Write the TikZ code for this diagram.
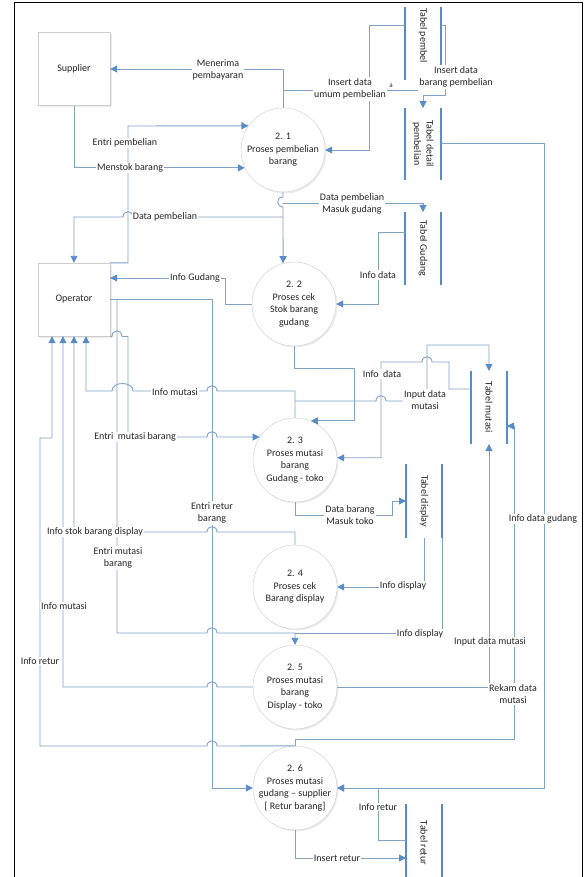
\documentclass[tikz,border=0pt]{standalone}
\usepackage{fontspec}
\setmainfont{Carlito}
\usetikzlibrary{arrows.meta,shadows}

\definecolor{flowblue}{RGB}{128,162,198}
\definecolor{tipblue}{RGB}{88,140,200}
\definecolor{rimgray}{RGB}{205,205,205}

\tikzset{
  ent/.style={rectangle, draw=rimgray, fill=white, minimum width=72, minimum height=73,
    drop shadow={shadow xshift=1.5pt, shadow yshift=-1.5pt, opacity=0.15}},
  proc/.style={circle, draw=rimgray, fill=white, minimum size=84, inner sep=0pt,
    drop shadow={shadow xshift=1.5pt, shadow yshift=-1.5pt, opacity=0.15}},
  ptxt/.style={align=center},
  store/.style={rectangle, minimum width=36, minimum height=73, inner sep=0pt, outer sep=0pt},
  stxt/.style={rotate=-90, align=center},
  storeline/.style={draw=tipblue, line width=2.2pt},
  flow/.style={draw=flowblue, line width=0.9pt},
  arr/.style={flow, -{Triangle[length=7pt, width=7pt, color=tipblue]}},
  lbl/.style={fill=white, inner sep=1pt, align=center},
}

\begin{document}
\begin{tikzpicture}[x=1pt, y=-1pt,
  every node/.style={font=\fontsize{10}{12.5}\selectfont, text=black!85}]
  \useasboundingbox (0,0) rectangle (584,877);

  % Frame
  \draw[line width=1pt] (14,877) -- (14,3) -- (582,3) -- (582,877);

  % Entities
  \node[ent] (sup) at (74,69) {Supplier};
  \node[ent] (op) at (74,299.5) {Operator};

  % Processes
  \node[proc, label={[ptxt]center:{2. 1\\Proses pembelian\\barang}}] (p21) at (283,150) {};
  \node[proc, label={[ptxt]center:{2. 2\\Proses cek\\Stok barang\\gudang}}] (p22) at (294,304) {};
  \node[proc, label={[ptxt]center:{2. 3\\Proses mutasi\\barang\\Gudang - toko}}] (p23) at (295,460) {};
  \node[proc, label={[ptxt]center:{2. 4\\Proses cek\\Barang display}}] (p24) at (295,587) {};
  \node[proc, label={[ptxt]center:{2. 5\\Proses mutasi\\barang\\Display - toko}}] (p25) at (295,687) {};
  \node[proc, label={[ptxt]center:{2. 6\\Proses mutasi\\gudang -- supplier\\{[} Retur barang]}}] (p26) at (295,788) {};

  % Data stores
  \node[store, label={[yshift=8pt, stxt]center:Tabel pembel}] (tpembel) at (423,43.5) {};
  \node[store, minimum height=72, label={[stxt]center:{Tabel detail\\pembelian}}] (tdetail) at (423,144) {};
  \node[store, label={[stxt]center:Tabel Gudang}] (tgudang) at (423,248.5) {};
  \node[store, label={[stxt]center:Tabel mutasi}] (tmutasi) at (489,407.5) {};
  \node[store, minimum height=74, label={[stxt]center:Tabel display}] (tdisplay) at (424,501) {};
  \node[store, minimum height=78, label={[stxt]center:Tabel retur}] (tretur) at (424,843) {};
  \foreach \s in {tpembel,tdetail,tgudang,tmutasi,tdisplay,tretur}
    \draw[storeline] (\s.north west) -- (\s.south west) (\s.north east) -- (\s.south east);

  \coordinate (umum) at (418,90);

  % 2.1 flows
  \draw[arr] (p21.north) |- (sup.east);
  \draw[flow] (p21.north |- 0,90) -- (umum);
  \draw[arr] (tpembel.west |- 0,25) -| (369,150) -- (p21.east);
  \draw[arr] (tpembel.east |- 0,25) -| (445,95) -| (tdetail.north);
  \draw[arr] (op.north east) -| (128,126) -- (p21.145);
  \draw[arr] (sup.south) |- (p21.205);
  \draw[arr] (p21.south) -- (283,197) .. controls (276,197) and (276,207) .. (283,207) -- (p22.105);
  \draw[arr] (p21.south |- 0,217) -- (133,217) .. controls (133,210) and (123,210) .. (123,217) -| (op.north);
  \draw[arr] (p21.south |- 0,203) -| (tgudang.north);

  % 2.2 flows
  \draw[arr] (p22.west) -| (225,278) -- (op.east |- 0,278);
  \draw[arr] (tgudang.west |- 0,232) -| (378,304) -- (p22.east);
  \draw[arr] (p22.south) |- (354,368) |- (p23.68);

  % 2.3 flows
  \draw[arr] (tmutasi.west |- 0,389) -| (449,362) -- (432,362)
    .. controls (432,355) and (422,355) .. (422,362) -- (381,362) |- (p23.3);
  \draw[arr] (p23.north) |- (217,391) .. controls (217,384) and (207,384) .. (207,391)
    -- (133,391) .. controls (133,381) and (112,381) .. (112,391) -| (op.south -| 86,0);
  \draw[arr] (p23.north |- 0,401) -- (376,401) .. controls (376,394) and (386,394) .. (386,401)
    -- (427,401) -- (427,345) -| (tmutasi.north);
  \draw[arr] (op.south east) -- (112,336.5) .. controls (112,329) and (122,329) .. (122,336.5)
    -| (128,437) -- (207,437) .. controls (207,430) and (217,430) .. (217,437) -- (p23.147);
  \draw[arr] (p23.south) |- (392,515) |- (tdisplay.west |- 0,501);

  % 2.4 flows
  \draw[arr] (p24.north) |- (217,532) .. controls (217,525) and (207,525) .. (207,532) -| (op.south);
  \draw[arr] (tdisplay.south) |- (p24.east);

  % 2.5 flows
  \draw[arr] (op.east -| 117,0) |- (207,633) .. controls (207,626) and (217,626) .. (217,633) -| (p25.north);
  \draw[flow] (tdisplay.south east) |- (p25.north |- 0,633);
  \draw[arr] (p25.west) -- (217,687) .. controls (217,680) and (207,680) .. (207,687) -| (op.south -| 63,0);
  \draw[arr] (p25.east) -| (tmutasi.south);

  % 2.6 flows
  \draw[arr] (op.east) -| (212,788) -- (p26.west);
  \draw[arr] (p26.north) -- (217,746) .. controls (217,739) and (207,739) .. (207,746)
    -| (40,438) -| (op.south -| 52,0);
  \draw[arr] (p26.north) |- (514,739) |- (tmutasi.east |- 0,426);
  \draw[arr] (tdetail.east |- 0,143) -| (544,788) -- (p26.east);
  \draw[arr] (tretur.west |- 0,840) -| (378,788) -- (p26.east);
  \draw[arr] (p26.south) |- (tretur.west |- 0,858);

  % Labels
  \node[lbl] (lbayar) at (218,70) {Menerima\\pembayaran};
  \node[lbl] (lumum) at (350,89) {Insert data\\umum pembelian};
  \node[inner sep=0pt, font=\fontsize{7}{8}\selectfont] (lstray) at (391,86) {a};
  \node[lbl] (lbrg) at (456,77) {Insert data\\barang pembelian};
  \node[lbl] (lentri) at (125,143) {Entri pembelian};
  \node[lbl] (lstok) at (130,168) {Menstok barang};
  \node[lbl] (ldata) at (165,217) {Data pembelian};
  \node[lbl] (lmasuk) at (352,204) {Data pembelian\\Masuk gudang};
  \node[lbl] (lgudang) at (195,278) {Info Gudang};
  \node[lbl] (linfod) at (378,275) {Info data};
  \node[lbl] (linfom) at (382,374) {Info\ \ data};
  \node[lbl] (linput) at (425,400) {Input data\\mutasi};
  \node[lbl] (lmut) at (175,392) {Info mutasi};
  \node[lbl] (lentrim) at (135,437) {Entri\ \ mutasi barang};
  \node[lbl] (lretur) at (212,513) {Entri retur\\barang};
  \node[lbl] (lstokd) at (95,532) {Info stok barang display};
  \node[lbl] (lentrim2) at (118,558) {Entri mutasi\\barang};
  \node[lbl] (lmasukt) at (350,515) {Data barang\\Masuk toko};
  \node[lbl] (ldisp) at (403,586) {Info display};
  \node[lbl] (ldisp2) at (420,634) {Info display};
  \node[lbl] (linput2) at (490,642) {Input data mutasi};
  \node[lbl] (lgud) at (543,519) {Info data gudang};
  \node[lbl] (lmut2) at (64,606) {Info mutasi};
  \node[lbl] (lret) at (40,661) {Info retur};
  \node[lbl] (lrekam) at (513,694) {Rekam data\\mutasi};
  \node[lbl] (lret2) at (378,807) {Info retur};
  \node[lbl] (linsr) at (337,858) {Insert retur};
\end{tikzpicture}
\end{document}
